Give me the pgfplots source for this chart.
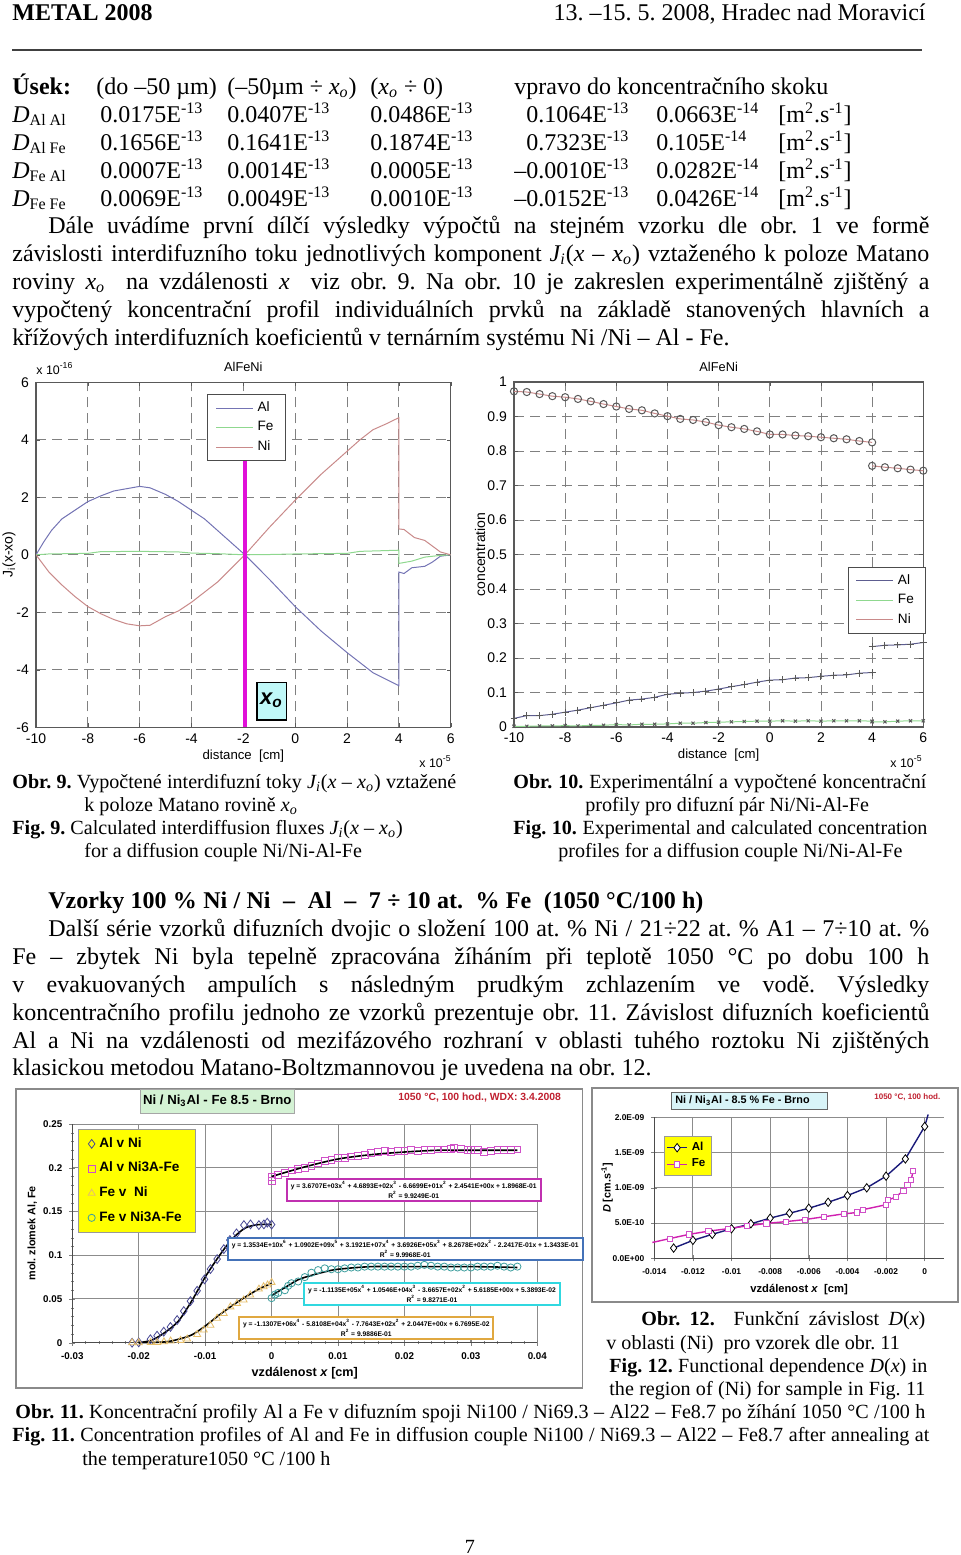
\documentclass[border=0pt]{standalone}
\usepackage{fontspec}
\setmainfont{Liberation Serif}
\setsansfont{Liberation Sans}
\usepackage{pgfplots}
\pgfplotsset{compat=1.18}

\definecolor{alc}{HTML}{7474B4}
\definecolor{fec}{HTML}{8FD88F}
\definecolor{nic}{HTML}{C98A8A}
\definecolor{framec}{HTML}{8A8A8A}
\definecolor{navyc}{HTML}{1A1A7A}
\definecolor{magc}{HTML}{D050C8}
\definecolor{magline}{HTML}{D020B0}
\definecolor{xoline}{HTML}{E010D8}
\definecolor{orc}{HTML}{E6BE6A}
\definecolor{tealc}{HTML}{3F9F9F}
\definecolor{boxm}{HTML}{C030B0}
\definecolor{boxb}{HTML}{4472B8}
\definecolor{boxc}{HTML}{30D8E0}
\definecolor{boxo}{HTML}{E0A840}
\definecolor{xofill}{HTML}{C0F8F8}
\definecolor{greenbox}{HTML}{D4F2D4}
\definecolor{cyanbox}{HTML}{D8F4F8}
\definecolor{redt}{HTML}{C02030}
\definecolor{yel}{HTML}{FFFF00}

% page coordinates are pixels of the reference, 1 px = 0.5 pt
\newcommand\bodyfont{\fontsize{12}{14}\selectfont}
\newcommand\capfont{\fontsize{10.05}{12}\selectfont}
\newcommand\T[3]{\node[anchor=base west,inner sep=0pt,font=\bodyfont] at (#1,#2) {#3};}
\newcommand\C[3]{\node[anchor=base west,inner sep=0pt,font=\capfont] at (#1,#2) {#3};}
\newcommand\J[4]{\node[anchor=base west,inner sep=0pt,font=\bodyfont] at (#1,#2) {\makebox[\dimexpr #3pt/2\relax][s]{#4}};}
\newcommand\CJ[4]{\node[anchor=base west,inner sep=0pt,font=\capfont] at (#1,#2) {\makebox[\dimexpr #3pt/2\relax][s]{#4}};}
\newcommand\Sx[1]{\textsuperscript{#1}}
\newcommand\Sb[1]{\textsubscript{#1}}
\newcommand\fitbox[7]{% x0 y0 x1 y1 colour line1 line2
  \draw[#5,line width=1.1pt,fill=white] (#1,#2) rectangle (#3,#4);
  \node[inner sep=0pt,align=center,font=\sffamily\bfseries\fontsize{3.35}{5}\selectfont] at ({(#1+#3)/2},{(#2+#4)/2}) {#6\\#7};}

\pgfplotsset{
  matlab/.style={
    scale only axis,
    xmin=-10,xmax=6,
    xtick={-10,-8,...,6},
    grid=major,
    major grid style={draw=gray,line width=0.45pt,dash pattern=on 5pt off 3pt},
    axis line style={draw=black!65,line width=0.6pt},
    tick style={draw=black!65},
    major tick length=2pt,
    font=\sffamily\fontsize{7}{8}\selectfont,
    /pgf/number format/assume math mode=true,
    scaled ticks=false,
    xticklabel style={yshift=0.5pt},
    every axis title shift=0pt,
    title style={at={(0.5,1)},anchor=center,yshift=7.5pt,font=\sffamily\fontsize{6.4}{8}\selectfont},
    xlabel style={at={(0.5,0)},anchor=center,yshift=-14.2pt,font=\sffamily\fontsize{6.6}{8}\selectfont},
    legend cell align=left,
    legend image code/.code={\draw[#1] (0pt,0pt) -- (18.5pt,0pt);},
    legend style={draw=black!70,inner xsep=4pt,inner ysep=1.5pt,row sep=-0.5pt,
      font=\sffamily\fontsize{6.8}{8}\selectfont},
  },
  excel/.style={
    scale only axis,
    axis lines*=left,
    axis line style={-,draw=black!70,line width=0.6pt},
    grid=major,
    major grid style={draw=black!45,line width=0.5pt},
    tick align=center,
    major tick length=3pt,
    scaled ticks=false,
    font=\sffamily\bfseries\fontsize{4.9}{6}\selectfont,
    legend cell align=left,
  },
  dotlegend/.style={legend image code/.code={\draw[mark repeat=2,mark phase=2,##1] plot coordinates {(0pt,0pt)(3.5pt,0pt)(7pt,0pt)};}},
}

\begin{document}
\frenchspacing
\begin{tikzpicture}
\path[use as bounding box] (0pt,0pt) rectangle (480pt,-777.5pt);

\begin{scope}[x=0.5pt,y=-0.5pt]
\draw[framec,fill=white,line width=0.6pt] (16,1089) rectangle (582.7,1388);
\draw[framec,fill=white,line width=0.6pt] (592,1088) rectangle (958,1302);
\end{scope}

% Fig. 9
\begin{axis}[matlab,
  at={(18pt,-363.65pt)},width=207.35pt,height=172.5pt,
  ymin=-6,ymax=6,ytick={-6,-4,...,6},
  title={AlFeNi},
  xlabel={distance\ \ [cm]},
  ylabel={J\textsubscript{i}(x-xo)},
  ylabel style={at={(0,0.5)},anchor=center,yshift=13.5pt},
  legend style={at={(0.413,0.965)},anchor=north west},
]
\addplot[alc,line width=0.5pt] coordinates {(-10,0)(-9.7,0.45)(-9.4,0.85)(-9,1.25)(-8.5,1.55)(-8,1.85)(-7.5,2.05)(-7,2.22)(-6.5,2.3)(-6,2.38)(-5.6,2.33)(-5,2.1)(-4.5,1.85)(-4,1.55)(-3.5,1.25)(-3,0.85)(-2.5,0.45)(-1.94,0)(-1,-0.85)(0,-1.8)(1,-2.65)(2,-3.4)(3,-4.1)(4,-4.55)(4,-0.6)(4.2,-0.65)(4.5,-0.45)(5,-0.4)(5.3,-0.25)(5.6,-0.05)(6,0)};
\addlegendentry{Al}
\addplot[fec,line width=0.5pt] coordinates {(-10,0)(-9.5,0.03)(-8,0.05)(-7.5,0.11)(-6,0.12)(-4.5,0.1)(-4,0.06)(-3,0.04)(-1.94,0)(-1,0.01)(0,0.03)(2,0.05)(2.5,0.12)(4,0.16)(4,-0.3)(4.5,-0.22)(5,-0.08)(5.5,-0.03)(6,0)};
\addlegendentry{Fe}
\addplot[nic,line width=0.5pt] coordinates {(-10,0)(-9.5,-0.6)(-9,-1.05)(-8.5,-1.45)(-8,-1.8)(-7.5,-2.05)(-7,-2.25)(-6.5,-2.4)(-6,-2.47)(-5.6,-2.45)(-5,-2.15)(-4.5,-1.95)(-4,-1.65)(-3.5,-1.3)(-3,-0.95)(-2.5,-0.5)(-1.94,0)(-1,0.95)(0,1.9)(1,2.8)(2,3.6)(2.5,4.0)(3,4.35)(3.5,4.55)(4,4.77)(4,0.9)(4.2,0.88)(4.6,0.6)(5,0.5)(5.3,0.3)(5.6,0.1)(6,0)};
\addlegendentry{Ni}
\addplot[draw=xoline,line width=1.8pt,forget plot] coordinates {(-1.94,-6)(-1.94,3.6)};
\end{axis}

% Fig. 10
\begin{axis}[matlab,
  at={(257pt,-363.5pt)},width=204.65pt,height=172.5pt,
  ymin=0,ymax=1,ytick={0,0.1,...,1.01},
  yticklabels={0,0.1,0.2,0.3,0.4,0.5,0.6,0.7,0.8,0.9,1},
  title={AlFeNi},
  xlabel={distance\ \ [cm]},
  ylabel={concentration},
  ylabel style={at={(0,0.5)},anchor=center,yshift=17pt},
  clip=false,
  legend style={at={(0.815,0.464)},anchor=north west,fill=white},
]
\addplot[alc!80!black,line width=0.5pt,mark=+,mark size=1.7pt,mark options={draw=black!65}] coordinates {(-10,0.025)(-9.5,0.033)(-9,0.033)(-8.5,0.037)(-8,0.043)(-7.5,0.049)(-7,0.056)(-6.5,0.063)(-6,0.07)(-5.5,0.078)(-5,0.081)(-4.5,0.086)(-4,0.095)(-3.5,0.098)(-3,0.1)(-2.5,0.104)(-2,0.11)(-1.5,0.117)(-1,0.123)(-0.5,0.13)(0,0.136)(0.5,0.137)(1,0.142)(1.5,0.143)(2,0.147)(2.5,0.15)(3,0.151)(3.5,0.156)(4,0.158)};
\addlegendentry{Al}
\addplot[fec,line width=0.5pt,mark=x,mark size=1.1pt,mark options={draw=black!65}] coordinates {(-10,0.002)(-9.5,0.002)(-9,0.003)(-8.5,0.003)(-8,0.004)(-7.5,0.003)(-7,0.005)(-6.5,0.005)(-6,0.007)(-5.5,0.006)(-5,0.008)(-4.5,0.008)(-4,0.009)(-3.5,0.011)(-3,0.011)(-2.5,0.013)(-2,0.014)(-1.5,0.015)(-1,0.016)(-0.5,0.017)(0,0.017)(0.5,0.018)(1,0.017)(1.5,0.018)(2,0.017)(2.5,0.018)(3,0.018)(3.5,0.018)(4,0.017)};
\addlegendentry{Fe}
\addplot[nic,line width=0.5pt,mark=o,mark size=1.8pt,mark options={draw=black!65}] coordinates {(-10,0.973)(-9.5,0.971)(-9,0.965)(-8.5,0.959)(-8,0.956)(-7.5,0.951)(-7,0.944)(-6.5,0.936)(-6,0.929)(-5.5,0.922)(-5,0.918)(-4.5,0.909)(-4,0.901)(-3.5,0.893)(-3,0.89)(-2.5,0.884)(-2,0.875)(-1.5,0.869)(-1,0.864)(-0.5,0.857)(0,0.848)(0.5,0.848)(1,0.845)(1.5,0.843)(2,0.84)(2.5,0.837)(3,0.834)(3.5,0.829)(4,0.825)};
\addlegendentry{Ni}
\addplot[alc!80!black,line width=0.5pt,mark=+,mark size=1.7pt,mark options={draw=black!65},forget plot] coordinates {(4,0.233)(4.5,0.237)(5,0.238)(5.5,0.24)(6,0.245)};
\addplot[fec,line width=0.5pt,mark=x,mark size=1.1pt,mark options={draw=black!65},forget plot] coordinates {(4,0.015)(4.5,0.015)(5,0.017)(5.5,0.018)(6,0.018)};
\addplot[nic,line width=0.5pt,mark=o,mark size=1.8pt,mark options={draw=black!65},forget plot] coordinates {(4,0.757)(4.5,0.753)(5,0.75)(5.5,0.746)(6,0.743)};
\end{axis}

% Fig. 11
\begin{axis}[excel,
  at={(36.15pt,-671.35pt)},width=232.5pt,height=109.35pt,
  xmin=-0.03,xmax=0.04,ymin=0,ymax=0.25,
  xtick={-0.03,-0.02,-0.01,0,0.01,0.02,0.03,0.04},
  xticklabels={-0.03,-0.02,-0.01,0,0.01,0.02,0.03,0.04},
  ytick={0,0.05,0.1,0.15,0.2,0.25},
  yticklabels={0,0.05,0.1,0.15,0.2,0.25},
  minor x tick num=4,minor y tick num=4,
  minor tick length=1.5pt,
  xlabel={vzdálenost \textit{x} [cm]},
  xlabel style={at={(0.5,0)},anchor=center,yshift=-15.4pt,font=\sffamily\bfseries\fontsize{6.3}{7}\selectfont},
  ylabel={mol. zlomek Al, Fe},
  ylabel style={at={(0,0.5)},anchor=center,yshift=20pt,font=\sffamily\bfseries\fontsize{5.4}{6}\selectfont},
  clip=false,
  legend style={at={(0.0116,0.977)},anchor=north west,fill=yel,draw=black!40,
    inner xsep=5pt,inner ysep=2pt,row sep=1.9pt,font=\sffamily\bfseries\fontsize{6.8}{8}\selectfont},
]
\addplot[only marks,dotlegend,mark=diamond,mark size=2.2pt,navyc!80!white,mark options={line width=0.4pt}] coordinates {(-0.021,0)(-0.02,0.0004)(-0.01824,0.004)(-0.01724,0.008)(-0.01623,0.0126)(-0.01523,0.018)(-0.01422,0.0259)(-0.01322,0.0362)(-0.01221,0.0476)(-0.01121,0.0594)(-0.0101,0.0724)(-0.0092,0.0842)(-0.0082,0.0956)(-0.00719,0.107)(-0.00628,0.1174)(-0.00528,0.125)(-0.00417,0.1345)(-0.00317,0.1353)(-0.00191,0.1345)(-0.00116,0.1353)(-0.00065,0.1372)(0,0.135)};
\addlegendentry{Al v Ni}
\addplot[only marks,dotlegend,mark=square,mark size=1.7pt,magc,mark options={line width=0.4pt}] coordinates {(0,0.19)(0,0.185)(0.001,0.192)(0.002,0.194)(0.003,0.197)(0.004,0.199)(0.005,0.2)(0.006,0.202)(0.007,0.205)(0.008,0.208)(0.009,0.209)(0.01,0.211)(0.011,0.211)(0.012,0.213)(0.013,0.214)(0.014,0.215)(0.015,0.217)(0.016,0.218)(0.017,0.219)(0.018,0.218)(0.019,0.219)(0.02,0.219)(0.021,0.22)(0.022,0.219)(0.023,0.22)(0.024,0.22)(0.025,0.221)(0.026,0.221)(0.027,0.222)(0.0275,0.223)(0.0285,0.222)(0.0295,0.22)(0.03,0.22)(0.031,0.22)(0.032,0.218)(0.033,0.219)(0.034,0.22)(0.035,0.22)(0.036,0.22)(0.037,0.221)};
\addlegendentry{Al v Ni3A-Fe}
\addplot[only marks,dotlegend,mark=triangle,mark size=2pt,orc,mark options={line width=0.4pt}] coordinates {(-0.021,0)(-0.02,0)(-0.0182,0.0004)(-0.0172,0.0004)(-0.0162,0.001)(-0.0152,0.002)(-0.0137,0.0027)(-0.0127,0.0042)(-0.0112,0.0095)(-0.0102,0.0145)(-0.0092,0.02)(-0.0082,0.028)(-0.0072,0.0335)(-0.0062,0.041)(-0.0052,0.045)(-0.0042,0.0488)(-0.0032,0.0545)(-0.0019,0.0613)(-0.0012,0.064)(-0.0006,0.066)(0,0.069)};
\addlegendentry{Fe v\ \ Ni}
\addplot[only marks,dotlegend,mark=o,mark size=1.8pt,tealc,mark options={line width=0.4pt}] coordinates {(0,0.051)(0.0005,0.055)(0.001,0.057)(0.002,0.06)(0.0025,0.065)(0.003,0.068)(0.004,0.07)(0.005,0.075)(0.006,0.08)(0.007,0.083)(0.008,0.085)(0.009,0.084)(0.01,0.084)(0.011,0.085)(0.012,0.086)(0.013,0.086)(0.014,0.087)(0.015,0.087)(0.016,0.087)(0.017,0.087)(0.018,0.087)(0.019,0.087)(0.02,0.087)(0.021,0.087)(0.022,0.088)(0.023,0.089)(0.024,0.088)(0.025,0.087)(0.026,0.087)(0.027,0.086)(0.028,0.086)(0.029,0.086)(0.03,0.086)(0.031,0.087)(0.032,0.087)(0.033,0.087)(0.034,0.088)(0.035,0.087)(0.036,0.086)(0.037,0.087)};
\addlegendentry{Fe v Ni3A-Fe}
\addplot[black,line width=0.8pt,smooth,forget plot] coordinates {(-0.02,0)(-0.018,0.003)(-0.016,0.012)(-0.014,0.025)(-0.012,0.048)(-0.01,0.075)(-0.008,0.098)(-0.006,0.118)(-0.004,0.131)(-0.002,0.135)(0,0.135)};
\addplot[black,line width=0.8pt,smooth,forget plot] coordinates {(0,0.19)(0.005,0.201)(0.01,0.21)(0.015,0.215)(0.02,0.218)(0.025,0.22)(0.03,0.22)(0.037,0.22)};
\addplot[black,line width=0.8pt,smooth,forget plot] coordinates {(-0.02,0)(-0.016,0.001)(-0.014,0.004)(-0.012,0.009)(-0.01,0.019)(-0.008,0.031)(-0.006,0.042)(-0.004,0.052)(-0.002,0.061)(0,0.068)};
\addplot[black,line width=0.8pt,smooth,forget plot] coordinates {(0,0.054)(0.002,0.063)(0.004,0.072)(0.006,0.077)(0.008,0.081)(0.01,0.084)(0.015,0.087)(0.02,0.087)(0.03,0.087)(0.037,0.086)};
\end{axis}

% Fig. 12
\begin{axis}[excel,
  at={(327.15pt,-629.15pt)},width=144.85pt,height=70.5pt,
  xmin=-0.014,xmax=0.001,ymin=0,ymax=2,
  xtick={-0.014,-0.012,-0.01,-0.008,-0.006,-0.004,-0.002,0},
  xticklabels={-0.014,-0.012,-0.01,-0.008,-0.006,-0.004,-0.002,0},
  ytick={0,0.5,1,1.5,2},
  yticklabels={0.0E+00,5.0E-10,1.0E-09,1.5E-09,2.0E-09},
  xlabel={vzdálenost \textit{x}\ \ [cm]},
  xlabel style={at={(0.5,0)},anchor=center,yshift=-15.4pt,font=\sffamily\bfseries\fontsize{5.6}{6}\selectfont},
  ylabel={\textit{D} [cm.s\textsuperscript{-1}]},
  ylabel style={at={(0,0.5)},anchor=center,yshift=23.6pt,font=\sffamily\bfseries\fontsize{5.4}{6}\selectfont},
  font=\sffamily\bfseries\fontsize{4.2}{5}\selectfont,
  clip=false,
  legend image code/.code={\draw[mark repeat=2,mark phase=2,#1] plot coordinates {(0pt,0pt)(5pt,0pt)(10pt,0pt)};},
  legend style={at={(0.0335,0.87)},anchor=north west,fill=yel,draw=black!40,
    inner xsep=1pt,inner ysep=1pt,row sep=-1.3pt,font=\sffamily\bfseries\fontsize{5.8}{7}\selectfont},
]
\addplot[navyc,line width=0.7pt,mark=diamond*,mark size=2.1pt,mark options={fill=white,draw=black,line width=0.4pt}] coordinates {(-0.013,0.145)(-0.012,0.255)(-0.011,0.34)(-0.01,0.42)(-0.009,0.49)(-0.008,0.57)(-0.007,0.64)(-0.006,0.71)(-0.005,0.795)(-0.004,0.89)(-0.003,1.0)(-0.002,1.165)(-0.001,1.41)(0,1.87)};
\addlegendentry{Al}
\addplot[magline,line width=0.7pt,mark=square*,mark size=1.3pt,mark options={fill=white,draw=magc,line width=0.4pt}] coordinates {(-0.0132,0.28)(-0.0122,0.34)(-0.0112,0.385)(-0.0102,0.42)(-0.0092,0.46)(-0.0082,0.495)(-0.0072,0.52)(-0.0062,0.55)(-0.0052,0.59)(-0.0042,0.63)(-0.0035,0.65)(-0.0032,0.69)(-0.002,0.76)(-0.0019,0.825)(-0.0015,0.87)(-0.0011,0.96)(-0.0009,1.04)(-0.0007,1.11)(-0.0006,1.24)};
\addlegendentry{Fe}
\addplot[navyc,line width=0.7pt,forget plot] coordinates {(0,1.87)(0.00018,2.04)};
\addplot[magline,line width=0.7pt,forget plot] coordinates {(-0.0141,0.225)(-0.0132,0.28)};
\end{axis}

\begin{scope}[x=0.5pt,y=-0.5pt]
% page text
\node[anchor=base west,inner sep=0pt,font=\bodyfont\bfseries] at (12,20) {METAL 2008};
\node[anchor=base east,inner sep=0pt,font=\bodyfont] at (926,20) {13. –15. 5. 2008, Hradec nad Moravicí};
\draw[black!75,line width=0.75pt] (12,50) -- (922,50);

\T{12}{94}{\textbf{Úsek:}}\T{96}{94}{(do –50 µm)}\T{227}{94}{(–50µm ÷ \textit{x\Sb{o}})}\T{370}{94}{(\textit{x\Sb{o}} ÷ 0)}\T{514}{94}{vpravo do koncentračního skoku}
\T{12}{122}{\textit{D}\Sb{Al Al}}\T{100}{122}{0.0175E\Sx{-13}}\T{227}{122}{0.0407E\Sx{-13}}\T{370}{122}{0.0486E\Sx{-13}}\T{526}{122}{0.1064E\Sx{-13}}\T{656}{122}{0.0663E\Sx{-14}}\T{778}{122}{[m\Sx{2}.s\Sx{-1}]}
\T{12}{150}{\textit{D}\Sb{Al Fe}}\T{100}{150}{0.1656E\Sx{-13}}\T{227}{150}{0.1641E\Sx{-13}}\T{370}{150}{0.1874E\Sx{-13}}\T{526}{150}{0.7323E\Sx{-13}}\T{656}{150}{0.105E\Sx{-14}}\T{778}{150}{[m\Sx{2}.s\Sx{-1}]}
\T{12}{178}{\textit{D}\Sb{Fe Al}}\T{100}{178}{0.0007E\Sx{-13}}\T{227}{178}{0.0014E\Sx{-13}}\T{370}{178}{0.0005E\Sx{-13}}\T{514}{178}{–0.0010E\Sx{-13}}\T{656}{178}{0.0282E\Sx{-14}}\T{778}{178}{[m\Sx{2}.s\Sx{-1}]}
\T{12}{206}{\textit{D}\Sb{Fe Fe}}\T{100}{206}{0.0069E\Sx{-13}}\T{227}{206}{0.0049E\Sx{-13}}\T{370}{206}{0.0010E\Sx{-13}}\T{514}{206}{–0.0152E\Sx{-13}}\T{656}{206}{0.0426E\Sx{-14}}\T{778}{206}{[m\Sx{2}.s\Sx{-1}]}
\J{48}{233}{881}{Dále uvádíme první dílčí výsledky výpočtů na stejném vzorku dle obr. 1 ve formě}
\J{12}{261}{917}{závislosti interdifuzního toku jednotlivých komponent \textit{J\Sb{i}}(\textit{x} – \textit{x\Sb{o}}) vztaženého k poloze Matano}
\J{12}{289}{917}{roviny \textit{x\Sb{o}}\ \ na vzdálenosti \textit{x}\ \ viz obr. 9. Na obr. 10 je zakreslen experimentálně zjištěný a}
\J{12}{317}{917}{vypočtený koncentrační profil individuálních prvků na základě stanovených hlavních a}
\T{12}{345}{křížových interdifuzních koeficientů v ternárním systému Ni /Ni – Al - Fe.}

% small texts of the two upper plots
\node[font=\sffamily\fontsize{6.2}{7}\selectfont,anchor=base west,inner sep=0pt] at (36,374) {x 10\Sx{-16}};
\node[font=\sffamily\fontsize{6.2}{7}\selectfont,anchor=base east,inner sep=0pt] at (452,767) {x 10\Sx{-5}};
\node[font=\sffamily\fontsize{6.2}{7}\selectfont,anchor=base east,inner sep=0pt] at (923,767) {x 10\Sx{-5}};
\draw[black,line width=0.7pt,fill=xofill] (257,682.3) rectangle (286.3,720);
\node[font=\sffamily\bfseries\itshape\fontsize{11}{12}\selectfont,inner sep=0pt] at (271.5,700) {x\Sb{o}};

\CJ{12}{788}{444}{\textbf{Obr. 9.} Vypočtené interdifuzní toky \textit{J\Sb{i}}(\textit{x} – \textit{x\Sb{o}}) vztažené}
\C{84}{811}{k poloze Matano rovině \textit{x\Sb{o}}}
\C{12}{834}{\textbf{Fig. 9.} Calculated interdiffusion fluxes \textit{J\Sb{i}}(\textit{x} – \textit{x\Sb{o}})}
\C{84}{857}{for a diffusion couple Ni/Ni-Al-Fe}
\CJ{513}{788}{413}{\textbf{Obr. 10.} Experimentální a vypočtené koncentrační}
\C{585}{811}{profily pro difuzní pár Ni/Ni-Al-Fe}
\CJ{513}{834}{414}{\textbf{Fig. 10.} Experimental and calculated concentration}
\C{558}{857}{profiles for a diffusion couple Ni/Ni-Al-Fe}

\node[anchor=base west,inner sep=0pt,font=\fontsize{12}{14}\selectfont\bfseries] at (48,908) {\makebox[327.5pt][s]{Vzorky 100 \% Ni / Ni\ \ –\ \ Al\ \ –\ \ 7 ÷ 10 at.\ \ \% Fe\ \ (1050 °C/100 h)}};
\J{48}{936}{881}{Další série vzorků difuzních dvojic o složení 100 at. \% Ni / 21÷22 at. \% A1 – 7÷10 at. \%}
\J{12}{964}{917}{Fe – zbytek Ni byla tepelně zpracována žíháním při teplotě 1050 °C po dobu 100 h}
\J{12}{992}{917}{v evakuovaných ampulích s následným prudkým zchlazením ve vodě. Výsledky}
\J{12}{1020}{917}{koncentračního profilu jednoho ze vzorků prezentuje obr. 11. Závislost difuzních koeficientů}
\J{12}{1048}{917}{Al a Ni na vzdálenosti od mezifázového rozhraní v oblasti tuhého roztoku Ni zjištěných}
\T{12}{1075}{klasickou metodou Matano-Boltzmannovou je uvedena na obr. 12.}

% annotations of the lower plots
\draw[black!35,fill=greenbox] (140.7,1089) rectangle (294,1113.3);
\node[font=\sffamily\bfseries\fontsize{6.6}{7}\selectfont,inner sep=0pt] at (217.3,1101) {Ni / Ni\Sb{3}Al - Fe 8.5 - Brno};
\node[font=\sffamily\bfseries\fontsize{5.2}{6}\selectfont,text=redt,anchor=west,inner sep=0pt] at (398,1097.7) {1050 °C, 100 hod., WDX: 3.4.2008};
\fitbox{286.7}{1179.3}{540.7}{1201.3}{boxm}{y = 3.6707E+03x\Sx{4} + 4.6893E+02x\Sx{3} - 6.6699E+01x\Sx{2} + 2.4541E+00x + 1.8968E-01}{R\Sx{2} = 9.9249E-01}
\fitbox{227.7}{1237.7}{582.7}{1259.7}{boxb}{y = 1.3534E+10x\Sx{6} + 1.0902E+09x\Sx{5} + 3.1921E+07x\Sx{4} + 3.6926E+05x\Sx{3} + 8.2678E+02x\Sx{2} - 2.2417E-01x + 1.3433E-01}{R\Sx{2} = 9.9968E-01}
\fitbox{304}{1283.3}{560}{1305}{boxc}{y = -1.1135E+05x\Sx{4} + 1.0546E+04x\Sx{3} - 3.6657E+02x\Sx{2} + 5.6185E+00x + 5.3893E-02}{R\Sx{2} = 9.8271E-01}
\fitbox{239.3}{1317}{493.3}{1339}{boxo}{y = -1.1307E+06x\Sx{4} - 5.8108E+04x\Sx{3} - 7.7643E+02x\Sx{2} + 2.0447E+00x + 6.7695E-02}{R\Sx{2} = 9.9886E-01}

\draw[black!60,fill=cyanbox] (671.7,1092.3) rectangle (827.3,1109.3);
\node[font=\sffamily\bfseries\fontsize{5.4}{7}\selectfont,inner sep=0pt,anchor=west] at (675,1101) {Ni / Ni\Sb{3}Al - 8.5 \% Fe - Brno};
\node[font=\sffamily\bfseries\fontsize{4}{5}\selectfont,text=redt,anchor=west,inner sep=0pt] at (874,1097) {1050 °C, 100 hod.};

\T{641}{1325}{\capfont\makebox[142pt][s]{\textbf{Obr. 12.}\ \ Funkční závislost \textit{D}(\textit{x})}}
\C{606}{1349}{v oblasti (Ni)\ \ pro vzorek dle obr. 11}
\CJ{609}{1372}{318}{\textbf{Fig. 12.} Functional dependence \textit{D}(\textit{x}) in}
\CJ{609}{1395}{316}{the region of (Ni) for sample in Fig. 11}
\CJ{15}{1418}{910}{\textbf{Obr. 11.} Koncentrační profily Al a Fe v difuzním spoji Ni100 / Ni69.3 – Al22 – Fe8.7 po žíhání 1050 °C /100 h}
\CJ{12}{1441}{917}{\textbf{Fig. 11.} Concentration profiles of Al and Fe in diffusion couple Ni100 / Ni69.3 – Al22 – Fe8.7 after annealing at}
\C{82}{1465}{the temperature1050 °C /100 h}
\node[anchor=base,inner sep=0pt,font=\capfont] at (470,1553) {7};
\end{scope}
\end{tikzpicture}
\end{document}
